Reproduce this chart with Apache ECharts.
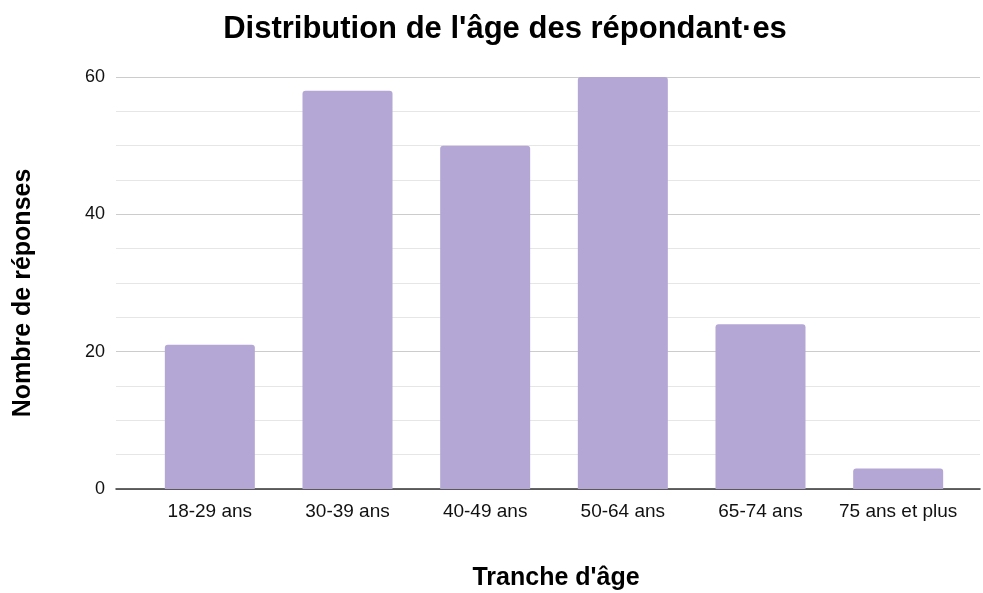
<!DOCTYPE html>
<html><head><meta charset="utf-8">
<script src="https://cdn.jsdelivr.net/npm/echarts@6/dist/echarts.min.js"></script>
<style>html,body{margin:0;padding:0;background:#fff}#c{width:983px;height:593px}</style>
</head><body><div id="c"></div>
<script>
const categories = ["18-29 ans","30-39 ans","40-49 ans","50-64 ans","65-74 ans","75 ans et plus"];
const values = [21, 58, 50, 60, 24, 3];
const yTicks = [0, 20, 40, 60];
const font = 'Liberation Sans, Arial';
const chart = echarts.init(document.getElementById('c'));
chart.setOption({
  animation: false,
  title: {text: "Distribution de l'âge des répondant·es", left: 500, top: 9, textAlign: 'center',
    textStyle: {fontFamily: font, fontSize: 31, fontWeight: 'bold', color: '#000'}},
  grid: [
    {left: 116, right: 3, top: 77, bottom: 104, outerBoundsMode: 'none', containLabel: false},
    {left: 141, right: 16, top: 77, bottom: 104, outerBoundsMode: 'none', containLabel: false}
  ],
  xAxis: [
    {type: 'value', gridIndex: 0, min: 0, max: 1,
      name: "Tranche d'âge", nameLocation: 'middle', nameGap: 77,
      nameTextStyle: {fontFamily: font, fontSize: 25, fontWeight: 'bold', color: '#000', padding: [0, 0, 0, 16]},
      axisLine: {show: true, onZero: false, lineStyle: {color: '#333', width: 1.5}},
      axisTick: {show: false}, axisLabel: {show: false}, splitLine: {show: false}},
    {type: 'category', gridIndex: 1, data: categories,
      axisLine: {show: false}, axisTick: {show: false},
      axisLabel: {interval: 0, fontFamily: font, fontSize: 19, color: '#111', margin: 13}}
  ],
  yAxis: [
    {type: 'value', gridIndex: 0, min: yTicks[0], max: yTicks[yTicks.length-1], interval: 20,
      name: 'Nombre de réponses', nameLocation: 'middle', nameGap: 80,
      nameTextStyle: {fontFamily: font, fontSize: 25, fontWeight: 'bold', color: '#000', padding: [0, 20, 0, 0]},
      axisLine: {show: false}, axisTick: {show: false},
      axisLabel: {fontFamily: font, fontSize: 18, color: '#111', margin: 11},
      splitLine: {lineStyle: {color: '#cccccc', width: 1}},
      minorTick: {show: false, splitNumber: 4},
      minorSplitLine: {show: true, lineStyle: {color: '#e6e6e6', width: 1}}},
    {type: 'value', gridIndex: 1, min: yTicks[0], max: yTicks[yTicks.length-1], interval: 20,
      show: false, splitLine: {show: false}}
  ],
  series: [{type: 'bar', xAxisIndex: 1, yAxisIndex: 1, data: values, barWidth: 90,
    itemStyle: {color: '#b4a7d6', borderRadius: [3,3,0,0]}}]
});
</script></body></html>
